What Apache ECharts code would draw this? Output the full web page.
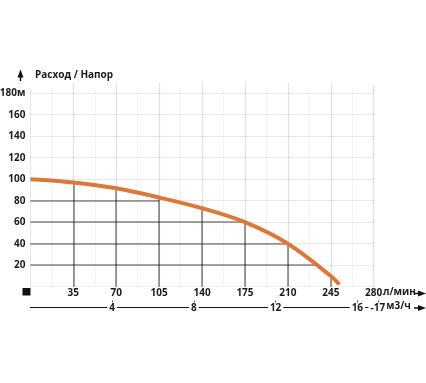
<!DOCTYPE html>
<html><head><meta charset="utf-8">
<script src="https://cdn.jsdelivr.net/npm/echarts@6/dist/echarts.min.js"></script>
<style>html,body{margin:0;padding:0;background:#fff}#c{width:426px;height:383px}</style>
</head><body><div id="c"></div>
<script>
// ---- data ----
const flowTicks = [35, 70, 105, 140, 175, 210, 245, 280];          // л/мин
const headTicks = [20, 40, 60, 80, 100, 120, 140, 160, 180];        // м
const m3hTicks = [4, 8, 12, 16, 17];                                // м3/ч
const curveFlow = [0, 35, 70, 105, 140, 175, 210, 245, 252];
const curveHead = [100, 97, 91.5, 83, 73, 60, 40, 10, 2];
const refHeads = [80, 60, 40, 20];          // horizontal black lines
const refHeadEnds = [105, 175, 210, 234];   // flow where they stop
const refFlows = [35, 70, 105, 140, 175, 210, 245]; // vertical black lines
const refFlowTops = [97, 91.5, 83, 73, 60, 40, 10];  // head where they stop
const minorFlows = [17.5, 52.5, 87.5, 122.5, 157.5, 192.5, 227.5, 262.5];

const font = 'Open Sans';
const txt = '#1a1a1a';
const fs = 10;

// grid lines
const gridLines = [];
headTicks.concat([0]).forEach(h => gridLines.push({coords: [[0, h], [280, h]], lineStyle: {color: '#a8a8a8', type: [1, 1], width: 1}}));
minorFlows.forEach(f => gridLines.push({coords: [[f, 0], [f, 183]], lineStyle: {color: '#d0d0d0', type: [1, 1], width: 1}}));
gridLines.push({coords: [[0, 0], [0, 183]], lineStyle: {color: '#a0a0a0', type: [1, 1], width: 1}});
flowTicks.forEach(f => gridLines.push({coords: [[f, 0], [f, f === 280 ? 187 : 190]], lineStyle: {color: '#909090', type: [1, 1], width: 1.3}}));

const refLines = [];
refHeads.forEach((h, i) => refLines.push({coords: [[0, h], [refHeadEnds[i], h]]}));
refFlows.forEach((f, i) => refLines.push({coords: [[f, 0], [f, refFlowTops[i]]]}));

// px per l/min = 343.3/280 ; second axis spans 0..17.2 m3/h
const pxPerM3h = 343.3 / 16.8;
const m3hMax = 17.2;
const grid2Right = 426 - 30.4 - m3hMax * pxPerM3h;

const chart = echarts.init(document.getElementById('c'), null, {renderer: 'canvas'});
chart.setOption({
  animation: false,
  grid: [
    {left: 30.4, right: 52.3, top: 82.45, bottom: 96.3, containLabel: false, outerBoundsMode: 'none'},
    {left: 30.4, right: grid2Right, top: 82.45, bottom: 96.3, containLabel: false, outerBoundsMode: 'none'}
  ],
  xAxis: [{
    gridIndex: 0, type: 'value', min: 0, max: 280, interval: 35,
    axisLine: {show: false}, axisTick: {show: false}, splitLine: {show: false},
    axisLabel: {
      customValues: flowTicks, margin: 1,
      fontFamily: font, fontWeight: 'bold', fontSize: fs, color: txt
    }
  }, {
    gridIndex: 1, type: 'value', min: 0, max: m3hMax, position: 'bottom', offset: 21,
    axisLine: {show: true, onZero: false, lineStyle: {color: '#111', width: 1.2}},
    axisTick: {show: true, inside: true, length: 7, customValues: m3hTicks, lineStyle: {color: '#111', width: 1, type: [2, 1]}},
    splitLine: {show: false},
    axisLabel: {
      customValues: m3hTicks, margin: 0, verticalAlign: 'middle', hideOverlap: false,
      formatter: v => v === 17 ? '-17' : String(v),
      backgroundColor: '#fff', padding: [0, 2], lineHeight: 9,
      fontFamily: font, fontWeight: 'bold', fontSize: fs, color: txt
    }
  }],
  yAxis: [{
    gridIndex: 0, type: 'value', min: 0, max: 190, interval: 10,
    axisLine: {show: false}, axisTick: {show: false}, splitLine: {show: false},
    axisLabel: {
      customValues: headTicks, margin: 5,
      formatter: v => v === 180 ? '180м' : String(v),
      fontFamily: font, fontWeight: 'bold', fontSize: fs, color: txt
    }
  }, {
    gridIndex: 1, type: 'value', min: 0, max: 190, show: false
  }],
  series: [
    {type: 'lines', coordinateSystem: 'cartesian2d', xAxisIndex: 0, yAxisIndex: 0, z: 1, silent: true, data: gridLines},
    {type: 'lines', coordinateSystem: 'cartesian2d', xAxisIndex: 0, yAxisIndex: 0, z: 2, silent: true,
     lineStyle: {color: '#111', width: 1.6}, data: refLines},
    {type: 'line', xAxisIndex: 0, yAxisIndex: 0, z: 3, smooth: 0.35, symbol: 'none', silent: true,
     lineStyle: {color: '#d97a3c', width: 4},
     data: curveFlow.map((f, i) => [f, curveHead[i]])}
  ],
  graphic: [
    {type: 'text', left: 35, top: 70, style: {text: 'Расход / Напор', fontFamily: font, fontWeight: 'bold', fontSize: fs, fill: txt}},
    {type: 'polygon', shape: {points: [[20.5, 69.5], [23.5, 77.5], [17.5, 77.5]]}, style: {fill: '#111'}},
    {type: 'line', shape: {x1: 20.5, y1: 76, x2: 20.5, y2: 81}, style: {stroke: '#111', lineWidth: 1.5}},
    {type: 'rect', shape: {x: 22.5, y: 288, width: 8, height: 7.5}, style: {fill: '#111'}},
    {type: 'text', left: 383, top: 287, style: {text: 'л/мин', fontFamily: font, fontWeight: 'bold', fontSize: fs, fill: txt}},
    {type: 'line', shape: {x1: 414, y1: 293.5, x2: 420, y2: 293.5}, style: {stroke: '#111', lineWidth: 1.5}},
    {type: 'polygon', shape: {points: [[418, 290.5], [426, 293.5], [418, 296.5]]}, style: {fill: '#111'}},
    {type: 'text', left: 386, top: 301.5, style: {text: 'м3/ч', fontFamily: font, fontWeight: 'bold', fontSize: fs, fill: txt}},
    {type: 'line', shape: {x1: 414, y1: 308, x2: 420, y2: 308}, style: {stroke: '#111', lineWidth: 1.5}},
    {type: 'polygon', shape: {points: [[418, 305], [426, 308], [418, 311]]}, style: {fill: '#111'}}
  ]
});
</script></body></html>
